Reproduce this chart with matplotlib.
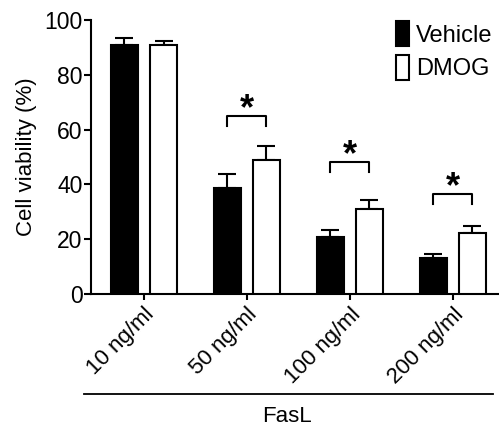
import matplotlib
matplotlib.use("Agg")
import matplotlib.pyplot as plt
import numpy as np

plt.rcParams['font.family'] = ['Liberation Sans', 'DejaVu Sans']

categories = ["10 ng/ml", "50 ng/ml", "100 ng/ml", "200 ng/ml"]
vehicle = [91.0, 38.8, 20.9, 13.0]
vehicle_err = [2.4, 4.9, 2.5, 1.6]
dmog = [90.9, 48.9, 30.9, 22.4]
dmog_err = [1.4, 5.1, 3.4, 2.4]
sig_groups = [1, 2, 3]
sig_heights = [65.0, 48.2, 36.5]

fig = plt.figure(figsize=(4.99, 4.29), dpi=100)
ax = fig.add_axes([0.1824, 0.3147, 0.8156, 0.6387])

x = np.arange(len(categories))
w = 0.26
off = 0.19
lw = 1.5
ax.bar(x - off, vehicle, w, color='black', edgecolor='black', linewidth=lw, label='Vehicle', zorder=3)
ax.bar(x + off, dmog, w, color='white', edgecolor='black', linewidth=lw, label='DMOG', zorder=3)
ax.errorbar(x - off, vehicle, yerr=[np.zeros(4), vehicle_err], fmt='none', ecolor='black',
            elinewidth=lw, capsize=6.5, capthick=lw, zorder=2)
ax.errorbar(x + off, dmog, yerr=[np.zeros(4), dmog_err], fmt='none', ecolor='black',
            elinewidth=lw, capsize=6.5, capthick=lw, zorder=2)

for g, h in zip(sig_groups, sig_heights):
    ax.plot([g - off, g - off, g + off, g + off], [h - 3.7, h, h, h - 3.7], color='black', lw=lw, clip_on=False)
    ax.text(g, h + 8.6, '*', ha='center', va='top', fontsize=26, fontweight='bold')

ax.set_xlim(-0.515, 3.44)
ax.set_ylim(0, 100)
ax.set_yticks([0, 20, 40, 60, 80, 100])
ax.set_xticks(x)
ax.set_xticklabels(categories, rotation=45, ha='right', rotation_mode='anchor', fontsize=16)
ax.tick_params(axis='y', labelsize=16.5, width=lw, length=5, pad=1)
ax.tick_params(axis='x', width=lw, length=4, pad=3)
ax.set_ylabel('Cell viability (%)', fontsize=16, labelpad=5)
for s in ['top', 'right']:
    ax.spines[s].set_visible(False)
for s in ['left', 'bottom']:
    ax.spines[s].set_linewidth(lw)

leg = ax.legend(loc='upper right', bbox_to_anchor=(1.01, 1.03), frameon=False, fontsize=17,
                handlelength=0.55, handleheight=1.25, handletextpad=0.3, labelspacing=0.35,
                borderaxespad=0)

fig.add_artist(plt.Line2D([84/499, 493/499], [1 - 394/429, 1 - 394/429], color='black', lw=1.3))
fig.text(287/499, 1 - 417/429, 'FasL', ha='center', va='center', fontsize=16)

fig.savefig('out.png', dpi=100)
